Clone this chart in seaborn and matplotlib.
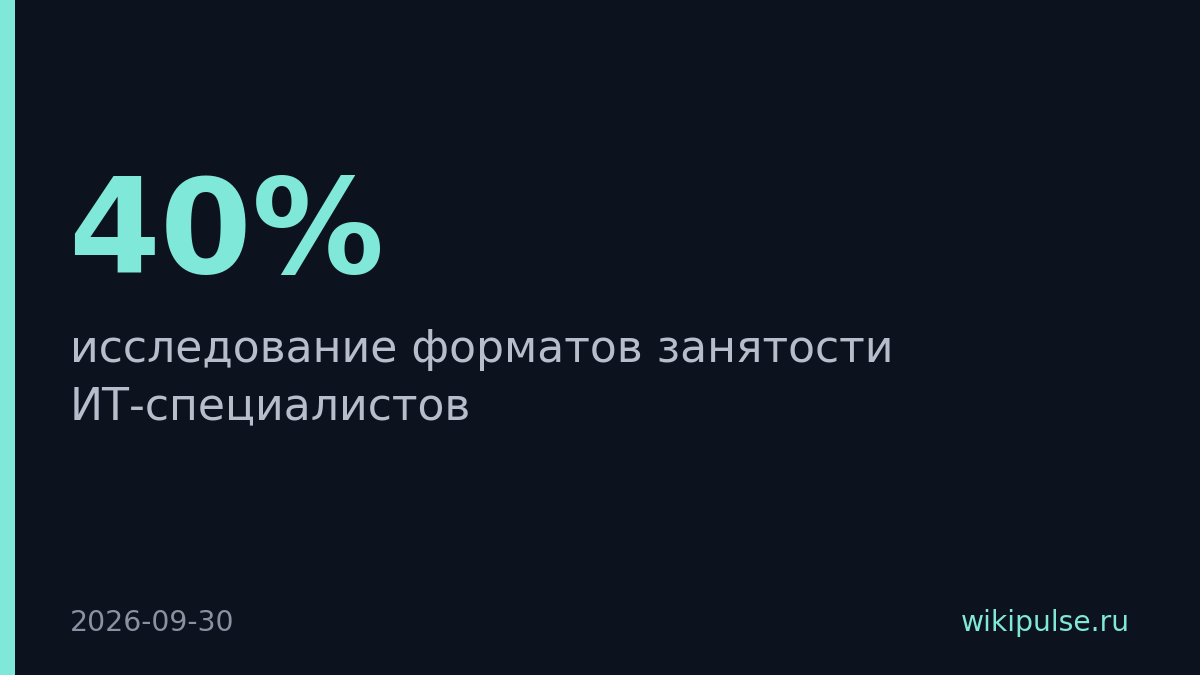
import matplotlib
matplotlib.use("Agg")
import matplotlib.pyplot as plt
import seaborn as sns

# данные карточки
headline = "40%"
subtitle_lines = ["исследование форматов занятости", "ИТ-специалистов"]
date_label = "2026-09-30"
site_label = "wikipulse.ru"

bg = "#0d131e"
accent = "#80e8d8"

sns.set_theme(style="dark", rc={"figure.facecolor": bg, "axes.facecolor": bg})
plt.rcParams['font.family'] = ['DejaVu Sans']

fig = plt.figure(figsize=(12, 6.75), dpi=100)
ax = fig.add_axes([0, 0, 1, 1])
ax.set_xlim(0, 1200)
ax.set_ylim(675, 0)
ax.axis("off")

# полоса слева
ax.axvspan(0, 15, color=accent, lw=0)

ax.text(68, 273, headline, color=accent, fontsize=95, fontweight="bold", va="baseline", ha="left")
for i, line in enumerate(subtitle_lines):
    ax.text(70, 362 + i * 57, line, color="#b8bdcc", fontsize=31.8, va="baseline", ha="left")

ax.text(70, 631, date_label, color="#8b91a2", fontsize=20.3, va="baseline", ha="left")
ax.text(1130, 631, site_label, color=accent, fontsize=20.3, va="baseline", ha="right")

fig.savefig("out.png", dpi=100, facecolor=bg)
